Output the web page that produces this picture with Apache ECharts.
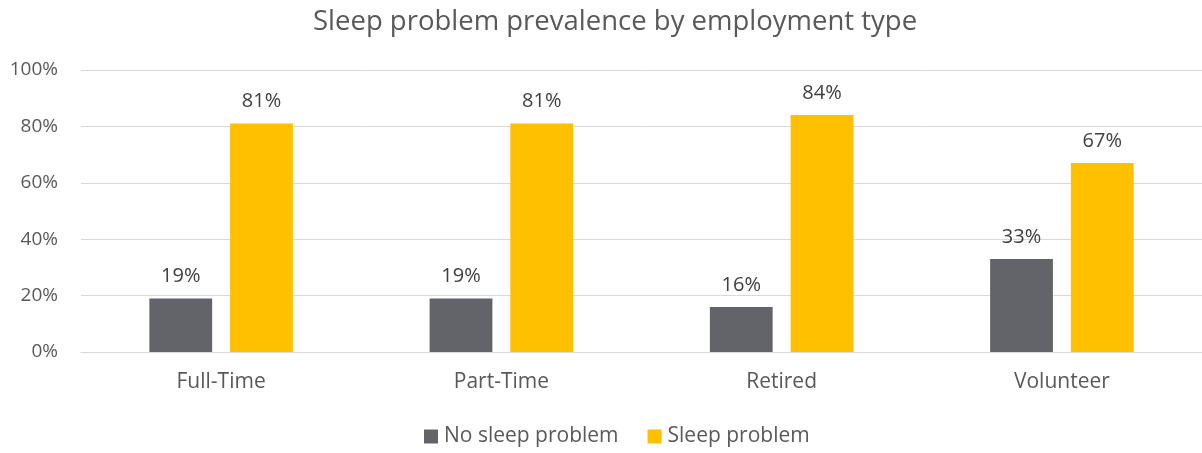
<!DOCTYPE html>
<html>
<head>
<meta charset="utf-8">
<style>
  html, body { margin: 0; padding: 0; background: #fff; overflow: hidden; }
  #chart { width: 1202px; height: 453px; }
</style>
<script src="https://cdn.jsdelivr.net/npm/echarts@6/dist/echarts.min.js"></script>
</head>
<body>
<div id="chart"></div>
<script>
// Employment categories and sleep problem shares (%)
const categories = ['Full-Time', 'Part-Time', 'Retired', 'Volunteer'];
const noSleepProblem = [19, 19, 16, 33];
const sleepProblem = [81, 81, 84, 67];
const yTicks = [0, 20, 40, 60, 80, 100];

const textColor = '#595959';
const fontFamily = '"Open Sans", "Noto Sans", sans-serif';

const chart = echarts.init(document.getElementById('chart'), null, { renderer: 'canvas' });

const labelStyle = {
  show: true,
  position: 'top',
  distance: 12,
  formatter: p => p.value + '%',
  color: '#404040',
  fontSize: 20,
  fontFamily
};

chart.setOption({
  animation: false,
  textStyle: { fontFamily },
  title: {
    text: 'Sleep problem prevalence by employment type',
    left: 308,
    top: 3,
    textStyle: { color: textColor, fontSize: 27.5, fontWeight: 'normal', fontFamily }
  },
  legend: {
    bottom: 1,
    left: 419,
    itemWidth: 14,
    itemHeight: 14,
    itemGap: 29,
    icon: 'rect',
    textStyle: { color: textColor, fontSize: 21, fontFamily, padding: [0, 0, 0, 1] },
    data: ['No sleep problem', 'Sleep problem']
  },
  // the plot runs slightly past the right edge of the canvas
  grid: { left: 81, width: 1125, top: 70, bottom: 101, containLabel: false },
  xAxis: {
    type: 'category',
    data: categories,
    axisLine: { show: true, lineStyle: { color: '#d9d9d9', width: 1 } },
    axisTick: { show: false },
    axisLabel: { color: textColor, fontSize: 21, margin: 20, fontFamily }
  },
  yAxis: {
    type: 'value',
    min: yTicks[0],
    max: yTicks[yTicks.length - 1],
    interval: 20,
    axisLine: { show: false },
    axisTick: { show: false },
    splitLine: { lineStyle: { color: '#d9d9d9', width: 1 } },
    axisLabel: { color: textColor, fontSize: 19, margin: 23, formatter: v => v + '%', fontFamily }
  },
  series: [
    {
      name: 'No sleep problem',
      type: 'bar',
      data: noSleepProblem,
      barWidth: '22.4%',
      barGap: '28.6%',
      itemStyle: { color: '#636469' },
      label: labelStyle
    },
    {
      name: 'Sleep problem',
      type: 'bar',
      data: sleepProblem,
      barWidth: '22.4%',
      itemStyle: { color: '#FFC000' },
      label: labelStyle
    }
  ]
});
</script>
</body>
</html>
